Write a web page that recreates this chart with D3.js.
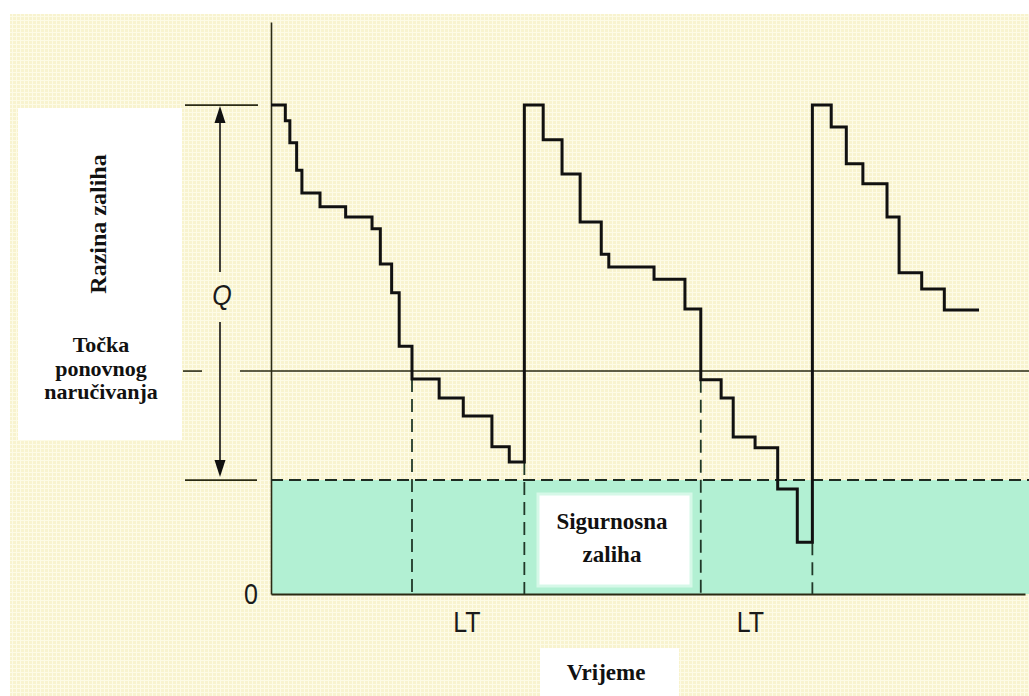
<!DOCTYPE html>
<html>
<head>
<meta charset="utf-8">
<script src="https://cdn.jsdelivr.net/npm/d3@7"></script>
<style>
  html, body { margin: 0; padding: 0; background: #fff; }
  svg { display: block; }
</style>
</head>
<body>
<svg id="chart" width="1029" height="696"></svg>
<script>
// Inventory level (0 = empty, 100 = full order Q on top) over time, stepped
const stepTimes = [0, 1.9, 2.5, 3.4, 4.1, 6.5, 9.9, 13.4, 14.5, 16.0, 17.0, 18.7, 22.3, 25.5, 29.3, 31.6,
  33.6, 36.1, 38.6, 41.0, 43.8, 44.8, 50.8, 54.9, 57.0, 59.7, 61.3, 64.2, 67.2, 69.8,
  71.8, 74.3, 76.3, 78.5, 81.7, 83.3, 86.3, 89.3, 93.9];
const stepLevels = [100, 96.8, 92.3, 86.7, 82.0, 79.2, 77.1, 74.7, 67.5, 61.6, 50.7, 44.0, 40.1, 36.4, 30.1, 27.0,
  100, 92.9, 85.9, 76.1, 69.5, 66.9, 64.4, 58.3, 43.8, 40.1, 32.1, 29.9, 21.5, 10.6,
  100, 95.5, 88.0, 83.9, 77.1, 65.7, 62.4, 58.1, 58.1];

const maxLevel = 100;
const reorderLevel = 45.6;
const safetyLevel = 23.3;
const orderTimes = [18.7, 57.0];
const arrivalTimes = [33.6, 71.8];
const ltTicks = [25.9, 63.5];
const ltLabels = ['LT', 'LT'];
const yTicks = [0];

const yLabel = 'Razina zaliha';
const reorderLabel = ['Točka', 'ponovnog', 'naručivanja'];
const safetyLabel = ['Sigurnosna', 'zaliha'];
const xLabel = 'Vrijeme';

const width = 1029, height = 696;
const margin = { top: 22, right: 4, bottom: 102, left: 271 };

const x = d3.scaleLinear().domain([0, 100]).range([margin.left, width - margin.right]);
const y = d3.scaleLinear().domain([0, 117]).range([height - margin.bottom, margin.top]);

const serif = "'Liberation Serif', 'Times New Roman', serif";
const sans = "'Liberation Sans', Arial, sans-serif";
const ink = '#2a2a14';

const svg = d3.select('#chart');

// Graph-paper background
const defs = svg.append('defs');
const pat = defs.append('pattern')
  .attr('id', 'paper')
  .attr('width', 4).attr('height', 4)
  .attr('patternUnits', 'userSpaceOnUse');
pat.append('rect').attr('width', 4).attr('height', 4).attr('fill', '#f8f3cf');
pat.append('rect').attr('width', 4).attr('height', 1).attr('fill', '#fdfbe6');
pat.append('rect').attr('width', 1).attr('height', 4).attr('fill', '#fdfbe6');

svg.append('rect')
  .attr('x', 10).attr('y', 14)
  .attr('width', width - 10).attr('height', height - 14)
  .attr('fill', 'url(#paper)');

// Safety stock band
svg.append('rect')
  .attr('x', x(0))
  .attr('y', y(safetyLevel))
  .attr('width', width - x(0))
  .attr('height', y(0) - y(safetyLevel))
  .attr('fill', '#b2f0d3');

// Label boxes
svg.append('rect')
  .attr('x', 18).attr('y', 108)
  .attr('width', 164).attr('height', 332)
  .attr('fill', '#fff');

svg.append('rect')
  .attr('x', 538).attr('y', 494)
  .attr('width', 153).attr('height', 92)
  .attr('fill', '#fff')
  .attr('stroke', '#d6f8e8')
  .attr('stroke-width', 3);

svg.append('rect')
  .attr('x', 540).attr('y', 648)
  .attr('width', 139).attr('height', 48)
  .attr('fill', '#fff');

// Axes
const yAxis = svg.append('g')
  .attr('transform', `translate(${x(0)},0)`)
  .call(d3.axisLeft(y).tickValues(yTicks).tickSize(0).tickSizeOuter(0).tickPadding(13));
yAxis.select('.domain').attr('stroke', ink).attr('stroke-width', 1.6);

const xAxis = svg.append('g')
  .attr('transform', `translate(0,${y(0)})`)
  .call(d3.axisBottom(x).tickValues(ltTicks).tickSize(0).tickSizeOuter(0).tickPadding(15)
    .tickFormat((d, i) => ltLabels[i]));
xAxis.select('.domain').attr('stroke', ink).attr('stroke-width', 2);

svg.selectAll('.tick text')
  .attr('font-family', sans)
  .attr('font-size', 25)
  .attr('fill', '#1a1a1a')
  .attr('transform', 'scale(1,1.15)');

// Reorder point line
svg.append('line')
  .attr('x1', x(0) - 88).attr('x2', x(0) - 69)
  .attr('y1', y(reorderLevel)).attr('y2', y(reorderLevel))
  .attr('stroke', ink).attr('stroke-width', 1.6);
svg.append('line')
  .attr('x1', x(0) - 31).attr('x2', width)
  .attr('y1', y(reorderLevel)).attr('y2', y(reorderLevel))
  .attr('stroke', ink).attr('stroke-width', 1.6);

// Top of order (Q) and safety stock level
svg.append('line')
  .attr('x1', x(0) - 86).attr('x2', x(0) - 13)
  .attr('y1', y(maxLevel)).attr('y2', y(maxLevel))
  .attr('stroke', ink).attr('stroke-width', 1.6);
svg.append('line')
  .attr('x1', x(0) - 86).attr('x2', x(0) - 14)
  .attr('y1', y(safetyLevel)).attr('y2', y(safetyLevel))
  .attr('stroke', ink).attr('stroke-width', 1.6);
svg.append('line')
  .attr('x1', x(0)).attr('x2', width)
  .attr('y1', y(safetyLevel)).attr('y2', y(safetyLevel))
  .attr('stroke', '#1e2b22').attr('stroke-width', 2)
  .attr('stroke-dasharray', '12,6');

// Q arrow
const ax = x(0) - 51;
svg.append('line')
  .attr('x1', ax).attr('x2', ax)
  .attr('y1', y(maxLevel) + 10).attr('y2', 272)
  .attr('stroke', '#111').attr('stroke-width', 1.6);
svg.append('line')
  .attr('x1', ax).attr('x2', ax)
  .attr('y1', 322).attr('y2', y(safetyLevel) - 10)
  .attr('stroke', '#111').attr('stroke-width', 1.6);
svg.append('path')
  .attr('d', `M${ax},${y(maxLevel) + 1}L${ax - 5.5},${y(maxLevel) + 18}L${ax + 5.5},${y(maxLevel) + 18}Z`)
  .attr('fill', '#111');
svg.append('path')
  .attr('d', `M${ax},${y(safetyLevel) - 3}L${ax - 5.5},${y(safetyLevel) - 20}L${ax + 5.5},${y(safetyLevel) - 20}Z`)
  .attr('fill', '#111');
svg.append('text')
  .attr('transform', `translate(${ax + 2},305) scale(1,1.15)`)
  .attr('text-anchor', 'middle')
  .attr('font-family', sans)
  .attr('font-style', 'italic')
  .attr('font-size', 25)
  .attr('fill', '#1a1a1a')
  .text('Q');

// Lead-time dashed verticals
const levelAt = (t) => {
  const i = d3.bisectRight(stepTimes, t) - 1;
  return stepLevels[Math.max(0, i)];
};
const arrivalLevel = (t) => {
  const i = d3.bisectLeft(stepTimes, t) - 1;
  return stepLevels[Math.max(0, i)];
};
const dashTimes = orderTimes.flatMap((t, i) => [
  { t, level: levelAt(t) },
  { t: arrivalTimes[i], level: arrivalLevel(arrivalTimes[i]) },
]);
svg.append('g')
  .selectAll('line')
  .data(dashTimes)
  .join('line')
  .attr('x1', (d) => x(d.t)).attr('x2', (d) => x(d.t))
  .attr('y1', (d) => y(d.level)).attr('y2', y(0))
  .attr('stroke', '#203828')
  .attr('stroke-width', 1.8)
  .attr('stroke-dasharray', '13,7');

// Inventory step line
const line = d3.line()
  .x((d, i) => x(stepTimes[i]))
  .y((d) => y(d))
  .curve(d3.curveStepAfter);

svg.append('path')
  .datum(stepLevels)
  .attr('fill', 'none')
  .attr('stroke', '#111')
  .attr('stroke-width', 3)
  .attr('stroke-linejoin', 'miter')
  .attr('d', line);

// Serif labels
svg.append('text')
  .attr('transform', 'translate(106,224) rotate(-90)')
  .attr('text-anchor', 'middle')
  .attr('font-family', serif)
  .attr('font-weight', 'bold')
  .attr('font-size', 24)
  .attr('fill', '#111')
  .text(yLabel);

svg.append('g')
  .selectAll('text')
  .data(reorderLabel)
  .join('text')
  .attr('x', 101)
  .attr('y', (d, i) => 352 + i * 23.5)
  .attr('text-anchor', 'middle')
  .attr('font-family', serif)
  .attr('font-weight', 'bold')
  .attr('font-size', 22)
  .attr('fill', '#111')
  .text((d) => d);

svg.append('g')
  .selectAll('text')
  .data(safetyLabel)
  .join('text')
  .attr('x', 612)
  .attr('y', (d, i) => 529 + i * 33)
  .attr('text-anchor', 'middle')
  .attr('font-family', serif)
  .attr('font-weight', 'bold')
  .attr('font-size', 23)
  .attr('fill', '#111')
  .text((d) => d);

svg.append('text')
  .attr('x', 606)
  .attr('y', 680)
  .attr('text-anchor', 'middle')
  .attr('font-family', serif)
  .attr('font-weight', 'bold')
  .attr('font-size', 23)
  .attr('fill', '#111')
  .text(xLabel);
</script>
</body>
</html>
